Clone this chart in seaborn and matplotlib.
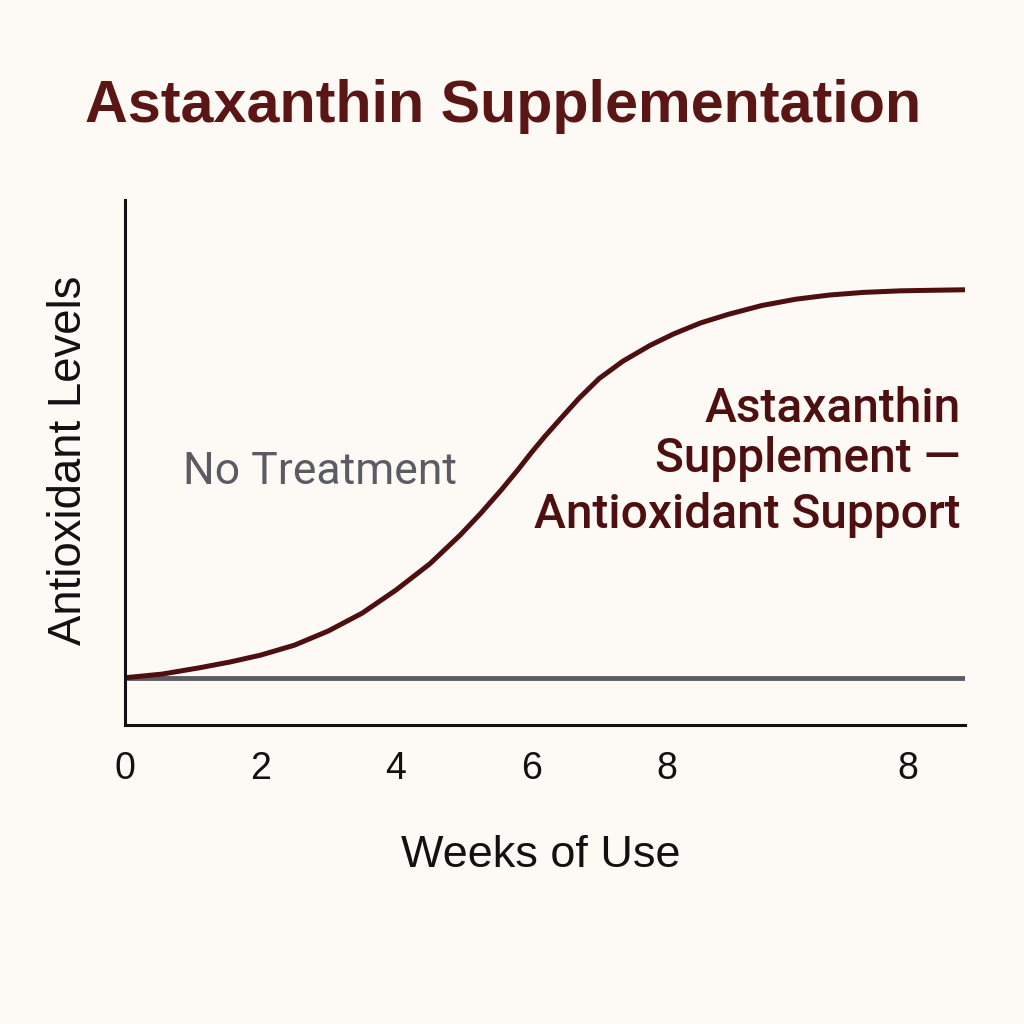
import matplotlib
matplotlib.use("Agg")
import matplotlib.pyplot as plt
import seaborn as sns
import pandas as pd
import numpy as np

# ---- data ----
weeks = [0.0, 0.55, 1.1, 1.55, 2.0, 2.5, 3.0, 3.5, 4.0, 4.5, 4.95, 5.25, 5.55, 5.8,
         6.0, 6.2, 6.42, 6.7, 7.0, 7.35, 7.75, 8.1, 8.5, 8.9, 9.4, 9.9, 10.4, 10.9,
         11.45, 11.9, 12.4]
astaxanthin = [0.90, 0.97, 1.09, 1.20, 1.33, 1.52, 1.79, 2.13, 2.57, 3.07, 3.62, 4.03,
               4.47, 4.86, 5.19, 5.50, 5.82, 6.22, 6.60, 6.93, 7.23, 7.45, 7.66, 7.82,
               7.99, 8.11, 8.19, 8.24, 8.27, 8.28, 8.29]
no_treatment_x = [0.0, 12.4]
no_treatment_y = [0.90, 0.90]
tick_positions = [0, 2, 4, 6, 8, 11.56]
tick_labels = ["0", "2", "4", "6", "8", "8"]

title = "Astaxanthin Supplementation"
xlabel = "Weeks of Use"
ylabel = "Antioxidant Levels"
label_supp = ["Astaxanthin", "Supplement \u2014", "Antioxidant Support"]
label_none = "No Treatment"

BG = "#fdfaf6"
RED = "#4d0f10"
TITLE_RED = "#5a1515"
GRAY = "#5b5c63"

sns.set_theme(style="white")
plt.rcParams["font.family"] = ["Liberation Sans", "DejaVu Sans"]

fig = plt.figure(figsize=(10.24, 10.24), dpi=100, facecolor=BG)
ax = fig.add_axes([125/1024, 1-725/1024, 840/1024, 525/1024])
ax.set_facecolor(BG)

df_s = pd.DataFrame({"week": weeks, "level": astaxanthin})
df_n = pd.DataFrame({"week": no_treatment_x, "level": no_treatment_y})
sns.lineplot(data=df_n, x="week", y="level", ax=ax, color=GRAY, linewidth=3.5,
             solid_capstyle="butt")
sns.lineplot(data=df_s, x="week", y="level", ax=ax, color=RED, linewidth=3.6,
             solid_capstyle="butt")

ax.set_xlim(0, 12.4)
ax.set_ylim(0, 10)
ax.set_xticks(tick_positions)
ax.set_xticklabels(tick_labels)
ax.set_yticks([])
ax.tick_params(axis="x", length=0, pad=19, labelsize=27, colors="#111111")

for side in ["top", "right"]:
    ax.spines[side].set_visible(False)
for side in ["left", "bottom"]:
    ax.spines[side].set_color("#111111")
    ax.spines[side].set_linewidth(2.2)

ax.set_xlabel(xlabel, fontsize=32.4, color="#111111")
ax.xaxis.set_label_coords(0.495, -0.21)
ax.set_ylabel(ylabel, fontsize=32.8, color="#111111")
ax.yaxis.set_label_coords(-0.04, 0.505)

fig.text(85/1024, 1-122/1024, title, fontsize=42.7, fontweight="bold",
         color=TITLE_RED, va="baseline", ha="left")

ys = [0.577, 0.482, 0.375]
for t, y in zip(label_supp, ys):
    ax.text(0.995, y, t, transform=ax.transAxes, ha="right", va="baseline",
            fontsize=34.5, fontweight="medium", color=RED,
            fontfamily=["Roboto", "DejaVu Sans"])

ax.text(0.069, 0.459, label_none, transform=ax.transAxes, ha="left", va="baseline",
        fontsize=32, color=GRAY, fontfamily=["Roboto", "DejaVu Sans"])

fig.savefig("out.png", dpi=100, facecolor=BG)
